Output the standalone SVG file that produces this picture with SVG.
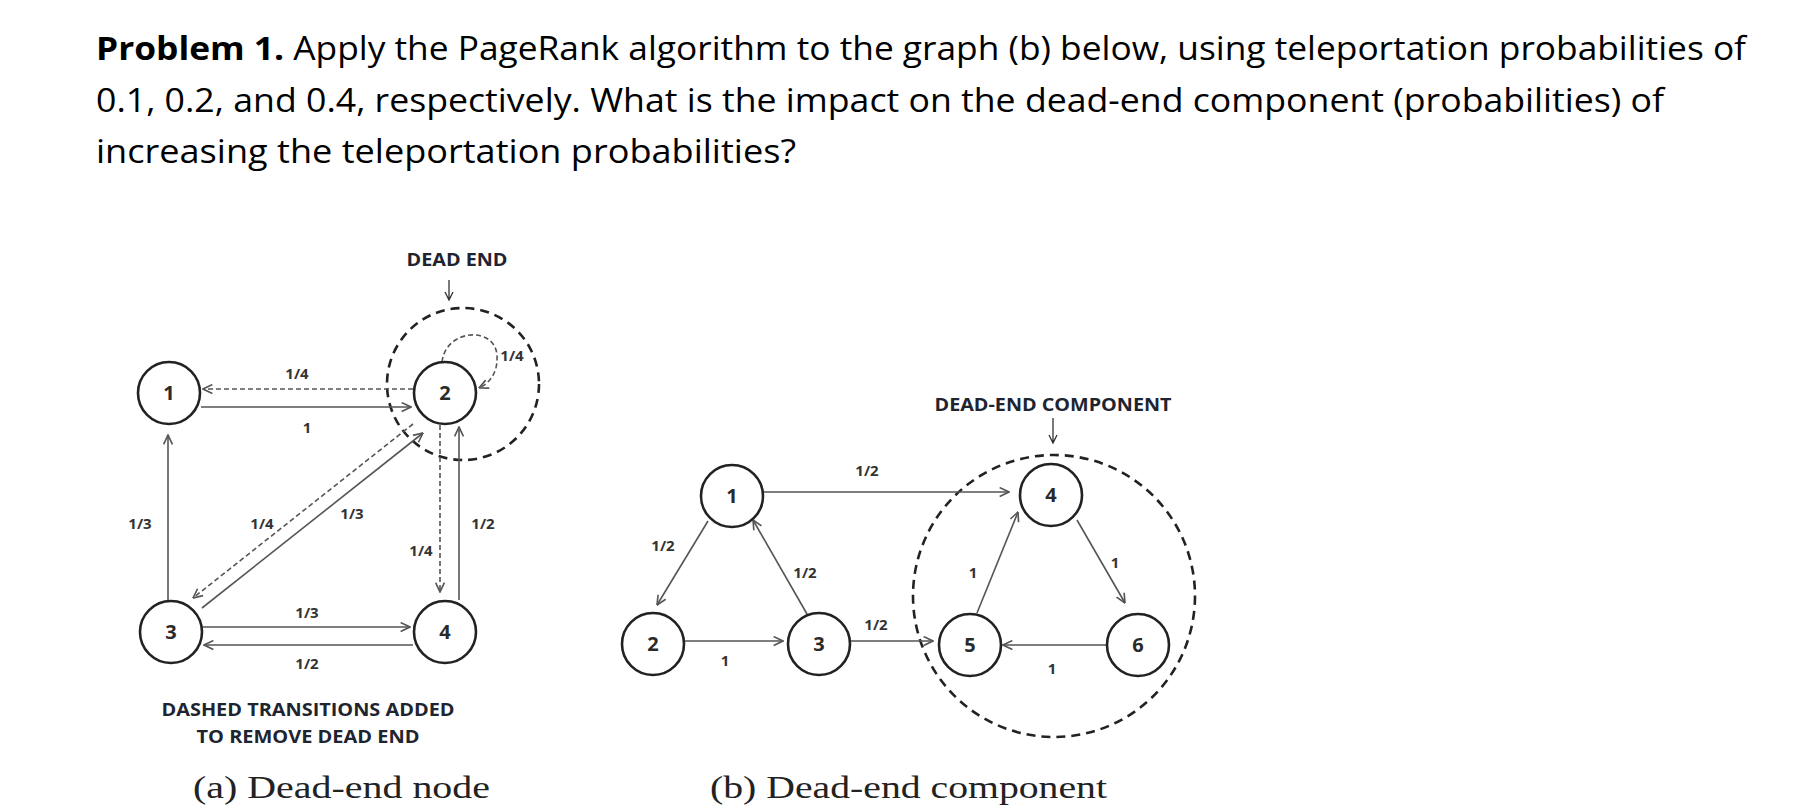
<svg xmlns="http://www.w3.org/2000/svg" width="1810" height="808" viewBox="0 0 1810 808">
<defs>
<style>
.q{font-family:"Open Sans","Liberation Sans",sans-serif;font-size:32px;fill:#000}
.node{fill:#fff;stroke:#222;stroke-width:2.6}
.nt{font-family:"Open Sans","Liberation Sans",sans-serif;font-weight:bold;font-size:20px;fill:#2a2a2a;text-anchor:middle}
.lb{font-family:"Open Sans","Liberation Sans",sans-serif;font-weight:bold;font-size:15px;fill:#333;text-anchor:middle}
.cap{font-family:"Open Sans","Liberation Sans",sans-serif;font-weight:bold;font-size:17px;fill:#1e2430;text-anchor:middle}
.e{fill:none;stroke:#555;stroke-width:1.6}
.d{fill:none;stroke:#555;stroke-width:1.6;stroke-dasharray:5,3}
.big{fill:none;stroke:#222;stroke-width:2.6;stroke-dasharray:9,6}
.pt{fill:none;stroke:#333;stroke-width:1.3}
.sc{font-family:"Liberation Serif","DejaVu Serif",serif;font-size:32px;fill:#222}
</style>
<marker id="arr" viewBox="0 0 10 10" refX="9.5" refY="5" markerWidth="11" markerHeight="11" orient="auto" markerUnits="userSpaceOnUse">
<path d="M1,1 L9.5,5 L1,9" fill="none" stroke="#555" stroke-width="1.5"/>
</marker>
</defs>
<rect width="1810" height="808" fill="#fff"/>

<g id="question">
<text class="q" x="96" y="60" textLength="1650" lengthAdjust="spacingAndGlyphs"><tspan font-weight="bold">Problem 1.</tspan> Apply the PageRank algorithm to the graph (b) below, using teleportation probabilities of</text>
<text class="q" x="96" y="112" textLength="1568" lengthAdjust="spacingAndGlyphs">0.1, 0.2, and 0.4, respectively. What is the impact on the dead-end component (probabilities) of</text>
<text class="q" x="96" y="163" textLength="700" lengthAdjust="spacingAndGlyphs">increasing the teleportation probabilities?</text>
</g>

<!-- Graph (a) -->
<g id="a-deadend-ring">
<circle class="big" cx="463" cy="384" r="76"/>
<text class="cap" x="457" y="266" textLength="101" lengthAdjust="spacingAndGlyphs">DEAD END</text>
<path class="pt" d="M449,280 V300 M445,292 L449,300 L453,292"/>
</g>

<g id="a-connectors">
<line class="e" x1="201" y1="407" x2="411" y2="407" marker-end="url(#arr)"/>
<line class="d" x1="413" y1="389" x2="203" y2="389" marker-end="url(#arr)"/>
<line class="e" x1="168" y1="600" x2="168" y2="435" marker-end="url(#arr)"/>
<line class="e" x1="202" y1="608" x2="423" y2="433" marker-end="url(#arr)"/>
<line class="d" x1="413" y1="424" x2="193" y2="598" marker-end="url(#arr)"/>
<line class="d" x1="440" y1="425" x2="440" y2="592" marker-end="url(#arr)"/>
<line class="e" x1="459" y1="600" x2="459" y2="427" marker-end="url(#arr)"/>
<line class="e" x1="203" y1="627" x2="410" y2="627" marker-end="url(#arr)"/>
<line class="e" x1="413" y1="645" x2="204" y2="645" marker-end="url(#arr)"/>
<path class="d" d="M442,362 C446,328 496,326 497,356 C498,372 490,383 479,388" marker-end="url(#arr)"/>
</g>

<g id="a-labels">
<text class="lb" x="297" y="379">1/4</text>
<text class="lb" x="307" y="433">1</text>
<text class="lb" x="140" y="529">1/3</text>
<text class="lb" x="262" y="529">1/4</text>
<text class="lb" x="352" y="519">1/3</text>
<text class="lb" x="483" y="529">1/2</text>
<text class="lb" x="421" y="556">1/4</text>
<text class="lb" x="307" y="618">1/3</text>
<text class="lb" x="307" y="669">1/2</text>
<text class="lb" x="512" y="361">1/4</text>
</g>

<g id="a-node1"><circle class="node" cx="169" cy="393" r="31"/><text class="nt" x="169" y="400">1</text></g>
<g id="a-node2"><circle class="node" cx="445" cy="393" r="31"/><text class="nt" x="445" y="400">2</text></g>
<g id="a-node3"><circle class="node" cx="171" cy="632" r="31"/><text class="nt" x="171" y="639">3</text></g>
<g id="a-node4"><circle class="node" cx="445" cy="632" r="31"/><text class="nt" x="445" y="639">4</text></g>

<g id="a-caption">
<text class="cap" x="308" y="716" textLength="293" lengthAdjust="spacingAndGlyphs">DASHED TRANSITIONS ADDED</text>
<text class="cap" x="308" y="743" textLength="223" lengthAdjust="spacingAndGlyphs">TO REMOVE DEAD END</text>
<text class="sc" x="193" y="798" textLength="297" lengthAdjust="spacingAndGlyphs">(a) Dead-end node</text>
</g>

<!-- Graph (b) -->
<g id="b-component-ring">
<circle class="big" cx="1054" cy="596" r="141"/>
<text class="cap" x="1053" y="411" textLength="237" lengthAdjust="spacingAndGlyphs">DEAD-END COMPONENT</text>
<path class="pt" d="M1053,418 V443 M1049,435 L1053,443 L1057,435"/>
</g>

<g id="b-connectors">
<line class="e" x1="764" y1="492" x2="1009" y2="492" marker-end="url(#arr)"/>
<line class="e" x1="708" y1="521" x2="657" y2="605" marker-end="url(#arr)"/>
<line class="e" x1="807" y1="614" x2="753" y2="520" marker-end="url(#arr)"/>
<line class="e" x1="685" y1="641" x2="783" y2="641" marker-end="url(#arr)"/>
<line class="e" x1="851" y1="641" x2="933" y2="641" marker-end="url(#arr)"/>
<line class="e" x1="977" y1="613" x2="1018" y2="512" marker-end="url(#arr)"/>
<line class="e" x1="1077" y1="520" x2="1125" y2="603" marker-end="url(#arr)"/>
<line class="e" x1="1107" y1="645" x2="1003" y2="645" marker-end="url(#arr)"/>
</g>

<g id="b-labels">
<text class="lb" x="867" y="476">1/2</text>
<text class="lb" x="663" y="551">1/2</text>
<text class="lb" x="805" y="578">1/2</text>
<text class="lb" x="725" y="666">1</text>
<text class="lb" x="876" y="630">1/2</text>
<text class="lb" x="973" y="578">1</text>
<text class="lb" x="1115" y="568">1</text>
<text class="lb" x="1052" y="674">1</text>
</g>

<g id="b-node1"><circle class="node" cx="732" cy="496" r="31"/><text class="nt" x="732" y="503">1</text></g>
<g id="b-node2"><circle class="node" cx="653" cy="644" r="31"/><text class="nt" x="653" y="651">2</text></g>
<g id="b-node3"><circle class="node" cx="819" cy="644" r="31"/><text class="nt" x="819" y="651">3</text></g>
<g id="b-node4"><circle class="node" cx="1051" cy="495" r="31"/><text class="nt" x="1051" y="502">4</text></g>
<g id="b-node5"><circle class="node" cx="970" cy="645" r="31"/><text class="nt" x="970" y="652">5</text></g>
<g id="b-node6"><circle class="node" cx="1138" cy="645" r="31"/><text class="nt" x="1138" y="652">6</text></g>

<g id="b-caption">
<text class="sc" x="710" y="798" textLength="397" lengthAdjust="spacingAndGlyphs">(b) Dead-end component</text>
</g>
</svg>
